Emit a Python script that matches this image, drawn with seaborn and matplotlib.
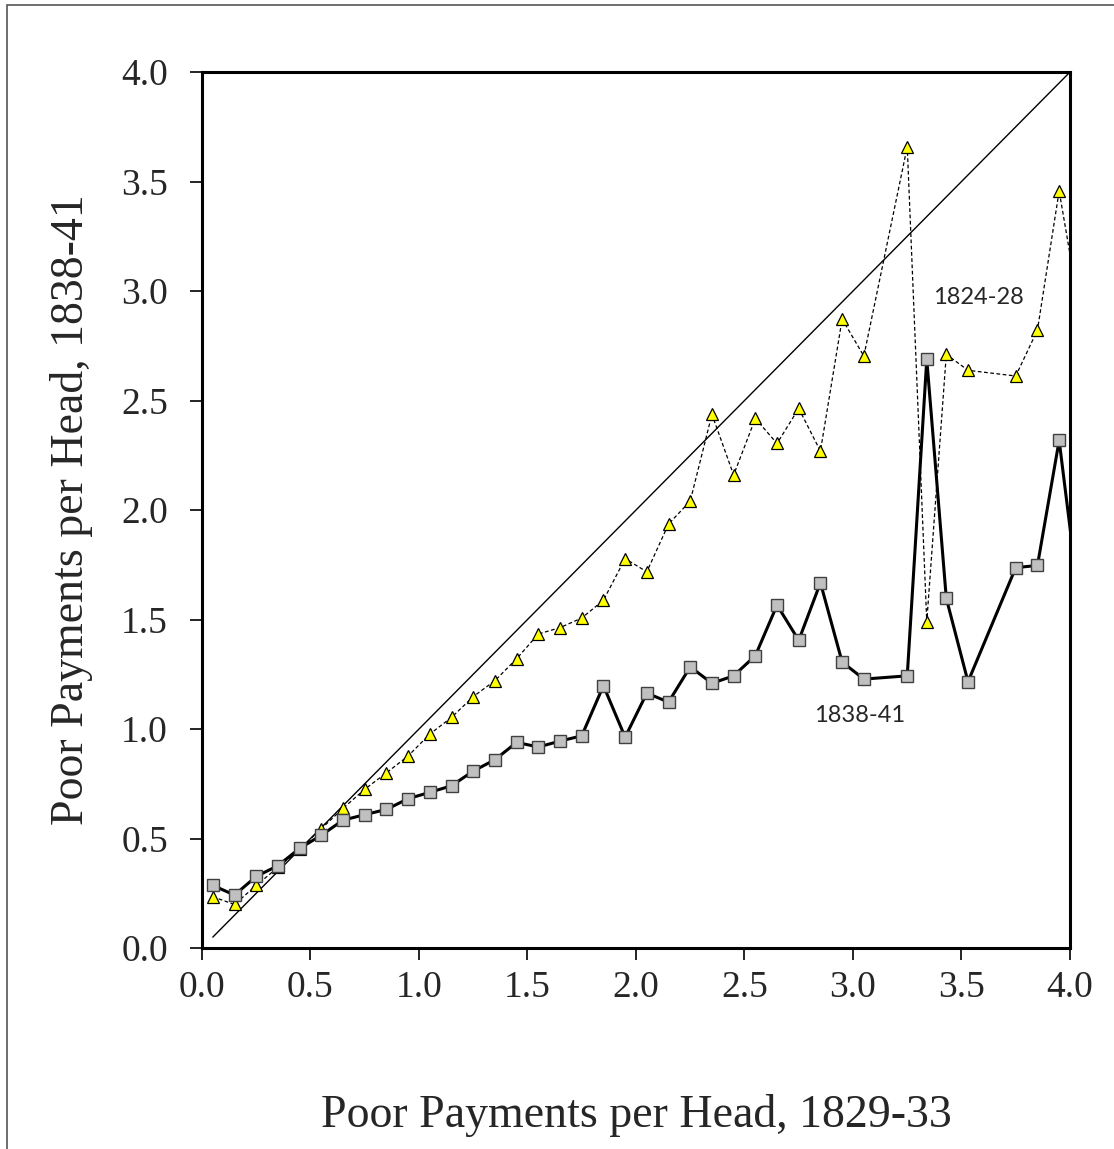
import matplotlib
matplotlib.use("Agg")
import matplotlib.pyplot as plt
import seaborn as sns
import pandas as pd
from matplotlib.patches import Rectangle

# x positions (Poor payments per head, 1829-33)
x_vals = [0.05, 0.15, 0.25, 0.35, 0.45, 0.55, 0.65, 0.75, 0.85, 0.95,
          1.05, 1.15, 1.25, 1.35, 1.45, 1.55, 1.65, 1.75, 1.85, 1.95,
          2.05, 2.15, 2.25, 2.35, 2.45, 2.55, 2.65, 2.75, 2.85, 2.95,
          3.05, 3.25, 3.34, 3.43, 3.53, 3.75, 3.85, 3.95, 4.05]

# 1838-41 (grey squares, solid)
y_1838 = [0.286, 0.242, 0.327, 0.376, 0.455, 0.515, 0.584, 0.609, 0.633, 0.682,
          0.711, 0.741, 0.808, 0.860, 0.939, 0.918, 0.945, 0.969, 1.198, 0.963,
          1.164, 1.123, 1.284, 1.209, 1.243, 1.335, 1.566, 1.405, 1.668, 1.306,
          1.228, 1.243, 2.688, 1.597, 1.216, 1.737, 1.747, 2.318, 1.52]

# 1824-28 (yellow triangles, dashed)
y_1824 = [0.234, 0.199, 0.286, 0.368, 0.451, 0.545, 0.638, 0.725, 0.800, 0.877,
          0.977, 1.053, 1.148, 1.221, 1.321, 1.434, 1.463, 1.507, 1.588, 1.778,
          1.718, 1.936, 2.041, 2.437, 2.160, 2.418, 2.304, 2.464, 2.269, 2.872,
          2.703, 3.659, 1.490, 2.711, 2.638, 2.612, 2.822, 3.457, 2.88]

# 45 degree reference line
diag = [0.05, 4.0]

ticks = [0.0, 0.5, 1.0, 1.5, 2.0, 2.5, 3.0, 3.5, 4.0]

df = pd.DataFrame({"x": x_vals, "y1838": y_1838, "y1824": y_1824})

sns.set_style("white")
plt.rcParams["font.family"] = ["Liberation Serif", "DejaVu Serif"]

fig = plt.figure(figsize=(11.14, 11.49), dpi=100)
ax = fig.add_axes([0.1813, 0.1749, 0.9605 - 0.1813, 0.9373 - 0.1749])

sns.lineplot(x=diag, y=diag, ax=ax, color="black", linewidth=1.0)
sns.lineplot(data=df, x="x", y="y1824", ax=ax, sort=False, estimator=None,
             color="black", linewidth=0.9, linestyle=(0, (3, 2)),
             marker="^", markersize=8, markerfacecolor="#FFFF00",
             markeredgecolor="black", markeredgewidth=0.9)
sns.lineplot(data=df, x="x", y="y1838", ax=ax, sort=False, estimator=None,
             color="black", linewidth=2.2,
             marker="s", markersize=8.5, markerfacecolor="#C0C0C0",
             markeredgecolor="#404040", markeredgewidth=1.0)

ax.set_xlim(0, 4)
ax.set_ylim(0, 4)
ax.set_xticks(ticks)
ax.set_yticks(ticks)
ax.set_xticklabels([f"{t:.1f}" for t in ticks])
ax.set_yticklabels([f"{t:.1f}" for t in ticks])
ax.tick_params(axis="both", direction="out", length=8.5, width=1.2,
               labelsize=27, color="black", bottom=True, left=True)
ax.tick_params(axis="x", pad=8)
ax.tick_params(axis="y", pad=16)
for s in ax.spines.values():
    s.set_color("black")
    s.set_linewidth(2.2)

ax.set_xlabel("Poor Payments per Head, 1829-33", fontsize=33, labelpad=64)
ax.set_ylabel("Poor Payments per Head, 1838-41", fontsize=33, labelpad=20)

ax.text(3.58, 2.97, "1824-28", fontsize=17, family=["Lato", "DejaVu Sans"],
        ha="center", va="center")
ax.text(3.03, 1.06, "1838-41", fontsize=17, family=["Lato", "DejaVu Sans"],
        ha="center", va="center")

# outer frame
fig.patches.append(Rectangle((7 / 1114, -0.05), 1.2, 1 - 5 / 1149 + 0.05,
                             transform=fig.transFigure, fill=False,
                             edgecolor="#555555", linewidth=1.2))

fig.savefig("out.png", dpi=100)
